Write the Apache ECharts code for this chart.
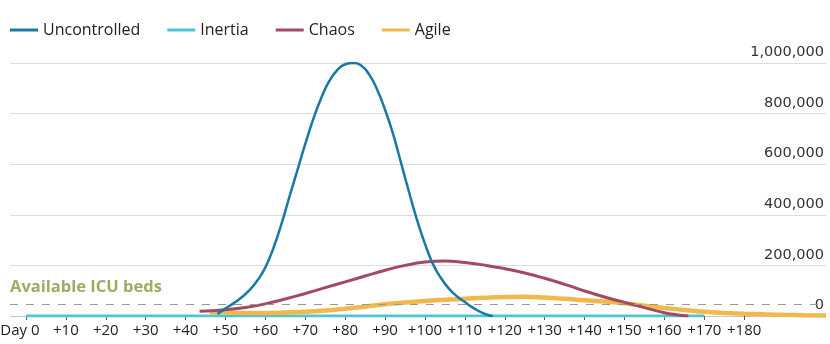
<!DOCTYPE html>
<html>
<head>
<meta charset="utf-8">
<script src="https://cdn.jsdelivr.net/npm/echarts@6/dist/echarts.min.js"></script>
<style>
  html, body { margin: 0; padding: 0; background: #fff; }
  #chart { width: 830px; height: 344px; }
</style>
</head>
<body>
<div id="chart"></div>
<script>
// ---- Data (day, ICU patients) ----
const seriesNames = ['Uncontrolled', 'Inertia', 'Chaos', 'Agile'];
const xTickDays = [0, 10, 20, 30, 40, 50, 60, 70, 80, 90, 100, 110, 120, 130, 140, 150, 160, 170, 180];
const yTicks = [0, 200000, 400000, 600000, 800000, 1000000];
const icuBeds = 48000;

const uncontrolled = [
  [48, 8000], [50, 30000], [52, 50000], [54, 73000], [56, 102000], [58, 140000],
  [60, 192000], [62, 268000], [64, 362000], [66, 470000], [68, 575000], [70, 680000],
  [72, 778000], [74, 862000], [76, 928000], [78, 972000], [80, 995000], [82, 1000000],
  [84, 990000], [86, 955000], [88, 895000], [90, 815000], [92, 720000], [94, 605000],
  [96, 490000], [98, 380000], [100, 285000], [102, 205000], [104, 150000], [106, 108000],
  [108, 78000], [110, 55000], [112, 33000], [114, 15000], [116, 3000], [117, 0]
];
const inertia = [[0, 0], [170, 0]];
const chaos = [
  [43.5, 19000], [50, 25000], [55, 34000], [60, 48000], [65, 67000], [70, 89000],
  [75, 112000], [80, 135000], [85, 158000], [90, 181000], [95, 200000], [100, 213000],
  [105, 217000], [110, 211000], [115, 201000], [120, 187000], [125, 170000], [130, 149000],
  [135, 125000], [140, 99000], [145, 75000], [150, 54000], [155, 33000], [160, 13000],
  [163, 5000], [166, 0]
];
const agile = [
  [46, 15000], [50, 14000], [55, 12000], [60, 12000], [65, 14000], [70, 17000],
  [75, 22000], [80, 29000], [85, 37000], [90, 46000], [95, 53000], [100, 59000],
  [105, 64000], [110, 68000], [115, 72000], [120, 75000], [125, 76000], [130, 73000],
  [135, 68000], [140, 62000], [145, 57000], [150, 50000], [155, 41000], [160, 32000],
  [165, 24000], [170, 17000], [175, 12000], [180, 9000], [185, 6500], [190, 4500],
  [195, 3000], [200.5, 2000]
];

const colors = ['#1a78a6', '#4cc7d1', '#a34962', '#f0b94e'];
const FONT = '"Open Sans", sans-serif';

const chart = echarts.init(document.getElementById('chart'), null, { renderer: 'canvas' });
chart.setOption({
  animation: false,
  color: colors,
  textStyle: { fontFamily: FONT },
  legend: {
    left: 5,
    top: 17,
    icon: 'rect',
    itemWidth: 28,
    itemHeight: 3,
    itemGap: 27,
    textStyle: { fontFamily: FONT, fontSize: 16, color: '#222' },
    data: seriesNames
  },
  grid: { left: 10, right: 4, top: 63, bottom: 28, containLabel: false, outerBoundsMode: 'none' },
  xAxis: {
    type: 'value',
    min: -4,
    max: 200.5,
    splitLine: { show: false },
    axisLine: { show: true, lineStyle: { color: '#c8c8c8', width: 1 } },
    axisTick: { show: true, customValues: xTickDays, length: 4, lineStyle: { color: '#555' } },
    axisLabel: {
      customValues: xTickDays,
      margin: 7,
      fontFamily: FONT,
      fontSize: 15,
      color: '#222',
      formatter: v => v === 0 ? '{d|Day 0}' : '+' + v,
      rich: { d: { fontFamily: FONT, fontSize: 15, color: '#222', padding: [0, 12, 0, 0] } }
    }
  },
  yAxis: {
    type: 'value',
    position: 'right',
    min: yTicks[0],
    max: yTicks[yTicks.length - 1],
    interval: 200000,
    axisLine: { show: false },
    axisTick: { show: false },
    splitLine: { show: true, lineStyle: { color: '#dcdcdc', width: 1 } },
    axisLabel: {
      inside: true,
      margin: 2,
      verticalAlign: 'bottom',
      padding: [0, 0, 3, 0],
      fontFamily: '"DejaVu Sans", sans-serif',
      fontSize: 14.5,
      color: '#333',
      formatter: v => v.toLocaleString('en-US')
    }
  },
  series: [
    {
      name: 'Uncontrolled', type: 'line', data: uncontrolled, smooth: 0.5,
      showSymbol: false, z: 5, lineStyle: { width: 2.5, color: colors[0] }
    },
    {
      name: 'Inertia', type: 'line', data: inertia, showSymbol: false, z: 2,
      lineStyle: { width: 3, color: colors[1] },
      markLine: {
        silent: true, symbol: 'none',
        lineStyle: { type: [8, 8], color: '#9a9a8a', width: 1 },
        label: {
          show: true, position: 'insideStartTop', formatter: 'Available ICU beds',
          fontFamily: FONT, fontSize: 16.5, fontWeight: 'bold', color: '#9eab63',
          distance: [0, 8]
        },
        data: [{ yAxis: icuBeds }]
      }
    },
    {
      name: 'Chaos', type: 'line', data: chaos, smooth: 0.5,
      showSymbol: false, z: 4, lineStyle: { width: 3, color: colors[2] }
    },
    {
      name: 'Agile', type: 'line', data: agile, smooth: 0.5,
      showSymbol: false, z: 3, lineStyle: { width: 4.5, color: colors[3] }
    }
  ]
});
</script>
</body>
</html>
